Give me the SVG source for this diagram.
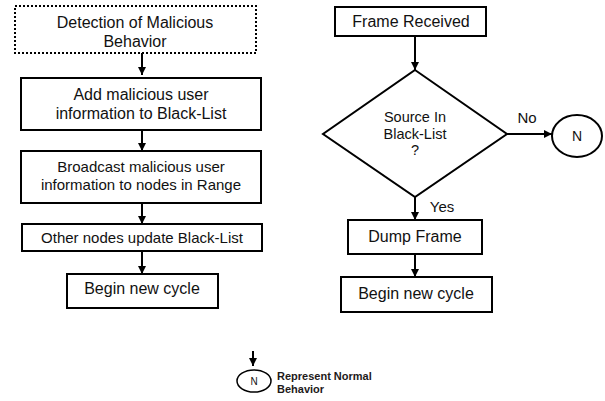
<svg xmlns="http://www.w3.org/2000/svg" width="605" height="401" viewBox="0 0 605 401">
<defs>
<marker id="ah" viewBox="0 0 10 10" refX="10" refY="5" markerWidth="4" markerHeight="4" markerUnits="strokeWidth" orient="auto">
<path d="M0,0 L10,5 L0,10 z" fill="#000"/>
</marker>
<style>
.box{fill:#fff;stroke:#000;stroke-width:2}
.dot{fill:#fff;stroke:#000;stroke-width:2;stroke-dasharray:2 2}
.t{font-family:"Liberation Sans",Arial,sans-serif;fill:#111;text-anchor:middle}
.c{stroke:#000;stroke-width:2;fill:none;marker-end:url(#ah)}
.leg{font-family:"Liberation Sans",Arial,sans-serif;font-weight:bold;font-size:11px;fill:#1e1a1a}
</style>
</defs>
<rect width="605" height="401" fill="#fff"/>
<g id="connectors">
<line class="c" x1="142" y1="53" x2="142" y2="75"/>
<line class="c" x1="142" y1="130" x2="142" y2="151"/>
<line class="c" x1="142" y1="203" x2="142" y2="224"/>
<line class="c" x1="142" y1="251" x2="142" y2="274"/>
<line class="c" x1="415" y1="36" x2="415" y2="70"/>
<line class="c" x1="507" y1="134" x2="552" y2="134"/>
<line class="c" x1="415" y1="197" x2="415" y2="220"/>
<line class="c" x1="415" y1="254" x2="415" y2="277"/>
<text class="t" x="527" y="123" font-size="15">No</text>
<text class="t" x="442" y="212" font-size="15">Yes</text>
</g>
<g id="detect">
<rect class="dot" x="15" y="6" width="241" height="47"/>
<text class="t" x="135" y="28" font-size="16">Detection of Malicious</text>
<text class="t" x="135" y="47" font-size="16">Behavior</text>
</g>
<g id="add">
<rect class="box" x="21" y="78" width="240" height="52"/>
<text class="t" x="141" y="100" font-size="16">Add malicious user</text>
<text class="t" x="141" y="119" font-size="16">information to Black-List</text>
</g>
<g id="broadcast">
<rect class="box" x="21" y="151" width="240" height="52"/>
<text class="t" x="141" y="172" font-size="15">Broadcast malicious user</text>
<text class="t" x="141" y="190" font-size="15">information to nodes in Range</text>
</g>
<g id="update">
<rect class="box" x="22" y="224" width="240" height="27"/>
<text class="t" x="142" y="243" font-size="15">Other nodes update Black-List</text>
</g>
<g id="begin1">
<rect class="box" x="67" y="274" width="151" height="34"/>
<text class="t" x="142" y="294" font-size="16">Begin new cycle</text>
</g>
<g id="frame">
<rect class="box" x="335" y="7" width="151" height="29"/>
<text class="t" x="411" y="27" font-size="16">Frame Received</text>
</g>
<g id="decision">
<polygon class="box" points="415,70 507,134 415,197 323,134"/>
<text class="t" x="415" y="122" font-size="14.5">Source In</text>
<text class="t" x="415" y="139" font-size="14.5">Black-List</text>
<text class="t" x="415" y="155" font-size="14.5">?</text>
</g>
<g id="normal">
<ellipse class="box" cx="577" cy="136" rx="25" ry="21"/>
<text class="t" x="577" y="141" font-size="14">N</text>
</g>
<g id="dump">
<rect class="box" x="348" y="220" width="134" height="34"/>
<text class="t" x="415" y="242" font-size="16">Dump Frame</text>
</g>
<g id="begin2">
<rect class="box" x="341" y="277" width="151" height="35"/>
<text class="t" x="416" y="299" font-size="16">Begin new cycle</text>
</g>
<g id="legend">
<line class="c" x1="253" y1="351" x2="253" y2="366"/>
<ellipse cx="254" cy="381" rx="17" ry="11" fill="#fff" stroke="#000" stroke-width="1.5"/>
<text class="t" x="254" y="385" font-size="10">N</text>
<text class="leg" x="277" y="380">Represent Normal</text>
<text class="leg" x="277" y="393">Behavior</text>
</g>
</svg>
